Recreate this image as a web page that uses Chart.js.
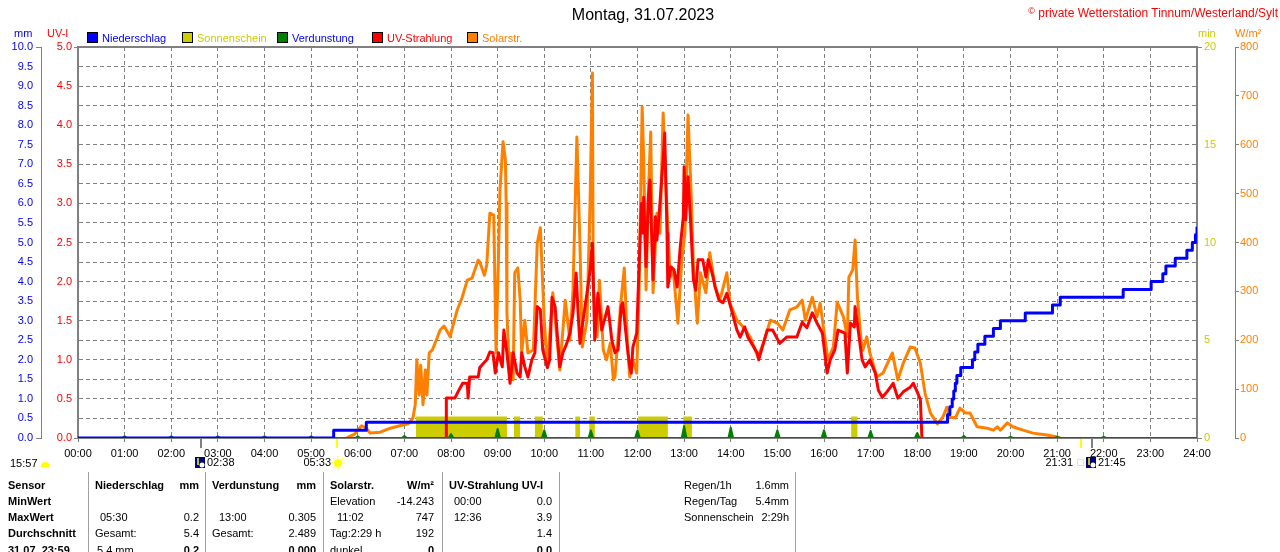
<!DOCTYPE html>
<html>
<head>
<meta charset="utf-8">
<title>Montag, 31.07.2023</title>
<script src="https://cdn.jsdelivr.net/npm/chart.js@4.4.0/dist/chart.umd.min.js"></script>
<style>
    html, body { margin: 0; padding: 0; background: #fff; }
    #wrap { position: relative; width: 1280px; height: 552px; overflow: hidden; font-family: "Liberation Sans", Arial, sans-serif; }
    #c { position: absolute; left: 0; top: 0; }
    .t { position: absolute; font-size: 11px; line-height: 14px; white-space: nowrap; color: #000; }
    .b { font-weight: bold; }
    .r { text-align: right; }
    .sep { position: absolute; top: 472px; height: 80px; width: 1px; background: #a0a0a0; }
    .box { display: inline-block; width: 9px; height: 9px; border: 1px solid #000; vertical-align: -1px; margin-right: 4px; }
</style>
</head>
<body>
<div id="wrap">
    <canvas id="c" width="1280" height="552"></canvas>

    <!-- title and header -->
    <div class="t" style="left:3px;width:1280px;top:5px;font-size:16px;line-height:20px;text-align:center;">Montag, 31.07.2023</div>
    <div class="t" style="right:2px;top:4px;font-size:12px;color:#ff0000;"><span style="font-size:9px;vertical-align:3px;">©</span> private Wetterstation Tinnum/Westerland/Sylt</div>

    <div class="t" style="left:14px;top:26px;color:#0000ff;">mm</div>
    <div class="t" style="left:47px;top:26px;color:#ff0000;">UV-I</div>
    <div class="t" style="left:1198px;top:26px;color:#cccc00;">min</div>
    <div class="t" style="left:1235px;top:26px;color:#ff8000;">W/m²</div>

    <!-- legend -->
    <div class="t" style="left:87px;top:31px;color:#0000ff;"><span class="box" style="background:#0000ff"></span>Niederschlag</div>
    <div class="t" style="left:182px;top:31px;color:#cccc00;"><span class="box" style="background:#cccc00"></span>Sonnenschein</div>
    <div class="t" style="left:277px;top:31px;color:#0000ff;"><span class="box" style="background:#008000"></span>Verdunstung</div>
    <div class="t" style="left:372px;top:31px;color:#ff0000;"><span class="box" style="background:#ff0000"></span>UV-Strahlung</div>
    <div class="t" style="left:467px;top:31px;color:#ff8000;"><span class="box" style="background:#ff8000"></span>Solarstr.</div>

    <div class="t" style="left:10px;top:456px;">15:57 <span style="display:inline-block;width:9px;height:5px;background:#ffff00;border-radius:5px 5px 0 0;vertical-align:0px;"></span></div>

    <!-- table -->
    <div class="sep" style="left:88px"></div>
    <div class="sep" style="left:205px"></div>
    <div class="sep" style="left:323px"></div>
    <div class="sep" style="left:442px"></div>
    <div class="sep" style="left:559px"></div>
    <div class="sep" style="left:795px"></div>

    <div class="t b" style="left:8px;top:478px;">Sensor</div>
    <div class="t b" style="left:8px;top:494px;">MinWert</div>
    <div class="t b" style="left:8px;top:510px;">MaxWert</div>
    <div class="t b" style="left:8px;top:526px;">Durchschnitt</div>
    <div class="t b" style="left:8px;top:543px;">31.07. 23:59</div>

    <div class="t b" style="left:95px;top:478px;">Niederschlag</div>
    <div class="t b r" style="right:1081px;top:478px;">mm</div>
    <div class="t" style="left:100px;top:510px;">05:30</div>
    <div class="t r" style="right:1081px;top:510px;">0.2</div>
    <div class="t" style="left:95px;top:526px;">Gesamt:</div>
    <div class="t r" style="right:1081px;top:526px;">5.4</div>
    <div class="t" style="left:97px;top:543px;">5.4 mm</div>
    <div class="t b r" style="right:1081px;top:543px;">0.2</div>

    <div class="t b" style="left:212px;top:478px;">Verdunstung</div>
    <div class="t b r" style="right:964px;top:478px;">mm</div>
    <div class="t" style="left:219px;top:510px;">13:00</div>
    <div class="t r" style="right:964px;top:510px;">0.305</div>
    <div class="t" style="left:212px;top:526px;">Gesamt:</div>
    <div class="t r" style="right:964px;top:526px;">2.489</div>
    <div class="t b r" style="right:964px;top:543px;">0.000</div>

    <div class="t b" style="left:330px;top:478px;">Solarstr.</div>
    <div class="t b r" style="right:846px;top:478px;">W/m²</div>
    <div class="t" style="left:330px;top:494px;">Elevation</div>
    <div class="t r" style="right:846px;top:494px;">-14.243</div>
    <div class="t" style="left:337px;top:510px;">11:02</div>
    <div class="t r" style="right:846px;top:510px;">747</div>
    <div class="t" style="left:330px;top:526px;">Tag:2:29 h</div>
    <div class="t r" style="right:846px;top:526px;">192</div>
    <div class="t" style="left:330px;top:543px;">dunkel</div>
    <div class="t b r" style="right:846px;top:543px;">0</div>

    <div class="t b" style="left:449px;top:478px;">UV-Strahlung UV-I</div>
    <div class="t" style="left:454px;top:494px;">00:00</div>
    <div class="t r" style="right:728px;top:494px;">0.0</div>
    <div class="t" style="left:454px;top:510px;">12:36</div>
    <div class="t r" style="right:728px;top:510px;">3.9</div>
    <div class="t r" style="right:728px;top:526px;">1.4</div>
    <div class="t b r" style="right:728px;top:543px;">0.0</div>

    <div class="t" style="left:684px;top:478px;">Regen/1h</div>
    <div class="t r" style="right:491px;top:478px;">1.6mm</div>
    <div class="t" style="left:684px;top:494px;">Regen/Tag</div>
    <div class="t r" style="right:491px;top:494px;">5.4mm</div>
    <div class="t" style="left:684px;top:510px;">Sonnenschein</div>
    <div class="t r" style="right:491px;top:510px;">2:29h</div>
</div>

<script>
// times are minutes after midnight

// Niederschlag, cumulative mm (step at each time)
let rainMin = [0, 329, 371, 1119, 1122, 1125, 1127, 1129, 1131, 1136, 1151, 1154, 1158, 1167, 1178, 1187,
    1219, 1254, 1264, 1345, 1381, 1396, 1400, 1412, 1427, 1434, 1438, 1440];
let rainMm = [0, 0.2, 0.4, 0.6, 0.8, 1.0, 1.2, 1.4, 1.6, 1.8, 2.0, 2.2, 2.4, 2.6, 2.8, 3.0,
    3.2, 3.4, 3.6, 3.8, 4.0, 4.2, 4.4, 4.6, 4.8, 5.0, 5.2, 5.4];

// Sonnenschein, minutes per interval
let sunStart = [435, 561, 588, 640, 658, 721, 779, 995];
let sunEnd = [552, 569, 598, 646, 665, 759, 790, 1003];
let sunValue = [1.1, 1.1, 1.1, 1.1, 1.1, 1.1, 1.1, 1.1];

// Verdunstung, mm per hour
let evapHour = [1, 2, 3, 4, 5, 6, 7, 8, 9, 10, 11, 12, 13, 14, 15, 16, 17, 18, 19, 20, 21, 22];
let evapMm = [0.04, 0.04, 0.04, 0.04, 0.04, 0.04, 0.05, 0.1, 0.23, 0.2, 0.19, 0.19, 0.305, 0.26, 0.2, 0.2,
    0.18, 0.13, 0.05, 0.03, 0.03, 0.03];

// UV-Strahlung, UV-I (only while above zero)
let uvMin = [474, 474, 485, 489, 495, 501, 502, 504, 515, 517, 526, 530, 534, 537, 541, 546, 548, 552, 556,
    560, 565, 569, 571, 575, 579, 584, 588, 591, 595, 598, 604, 607, 610, 614, 620, 624, 629, 633, 637,
    641, 644, 646, 650, 655, 659, 662, 665, 669, 674, 682, 687, 691, 695, 699, 701, 707, 710, 712, 714,
    719, 722, 725, 727, 728, 731, 734, 736, 740, 743, 745, 748, 752, 753, 755, 758, 759, 763, 767, 771,
    775, 779, 780, 782, 785, 788, 792, 795, 798, 804, 808, 811, 816, 820, 825, 830, 835, 842, 848, 852,
    858, 862, 874, 876, 882, 887, 894, 903, 912, 925, 932, 938, 945, 951, 958, 964, 968, 974, 978, 987,
    990, 994, 999, 1000, 1004, 1009, 1013, 1019, 1026, 1030, 1035, 1041, 1049, 1055, 1062, 1071, 1075, 1080,
    1084, 1086];
let uvIndex = [0, 0.51, 0.51, 0.59, 0.70, 0.70, 0.51, 0.78, 0.78, 0.90, 1.0, 1.1, 1.09, 0.83, 1.09, 0.91, 1.38, 1.09, 0.70,
    1.09, 0.83, 0.78, 1.09, 0.91, 0.78, 1.0, 1.09, 1.68, 1.64, 1.13, 0.90, 1.0, 1.80, 1.68, 0.91, 1.09, 1.21, 1.34, 1.60,
    2.11, 1.51, 1.21, 1.51, 1.85, 2.15, 2.49, 1.25, 1.85, 1.38, 1.68, 1.25, 1.09, 1.13, 1.68, 1.73, 1.16, 0.91, 0.83, 1.16,
    1.34, 2.19, 3.0, 2.62, 3.08, 2.19, 3.08, 3.30, 2.02, 2.83, 2.53, 2.88, 3.43, 3.56, 3.90, 2.62, 1.93, 2.19, 2.15, 1.93,
    2.44, 2.83, 3.47, 2.79, 3.34, 2.83, 2.02, 1.89, 2.28, 2.28, 2.06, 2.28, 2.11, 1.93, 1.76, 1.73, 1.85, 1.60, 1.38, 1.29,
    1.42, 1.29, 1.09, 1.0, 1.21, 1.38, 1.38, 1.21, 1.29, 1.29, 1.48, 1.41, 1.60, 1.47, 1.34, 0.83, 1.0, 1.13, 1.38, 1.34,
    0.83, 1.47, 1.42, 1.68, 1.38, 1.0, 0.91, 1.0, 0.83, 0.61, 0.52, 0.59, 0.70, 0.51, 0.59, 0.65, 0.70, 0.59,
    0.49, 0];

// Solarstrahlung, W/m² (only while above zero)
let solarMin = [346, 348, 356, 365, 371, 376, 389, 402, 414, 425, 431, 434, 436, 439, 441, 444, 447, 449, 452,
    456, 461, 466, 471, 479, 481, 488, 494, 501, 507, 515, 517, 523, 526, 530, 535, 538, 541, 543, 547,
    550, 551, 552, 555, 557, 560, 562, 566, 569, 571, 575, 579, 586, 591, 595, 600, 604, 611, 620, 627,
    633, 637, 642, 646, 649, 655, 659, 662, 663, 668, 671, 676, 680, 685, 689, 691, 698, 703, 707, 710,
    714, 719, 722, 726, 728, 731, 734, 737, 740, 745, 749, 753, 757, 762, 766, 772, 777, 781, 785, 789,
    792, 797, 801, 808, 813, 820, 826, 835, 839, 848, 856, 865, 875, 882, 891, 900, 907, 916, 925, 932,
    936, 945, 951, 955, 961, 965, 972, 977, 985, 990, 992, 997, 1000, 1003, 1008, 1010, 1015, 1019, 1028, 1036,
    1048, 1055, 1062, 1071, 1077, 1084, 1090, 1097, 1106, 1113, 1118, 1122, 1129, 1135, 1142, 1148, 1157, 1170, 1178, 1183,
    1187, 1196, 1203, 1216, 1229, 1247, 1260, 1264];
let solarW = [0, 2, 8, 25, 20, 10, 12, 20, 25, 29, 41, 68, 160, 88, 149, 68, 139, 88, 174,
    180, 200, 221, 229, 207, 221, 262, 286, 323, 327, 364, 360, 333, 354, 460, 456, 174, 364, 507, 606,
    569, 481, 256, 139, 174, 119, 338, 348, 282, 174, 241, 174, 180, 399, 430, 241, 145, 297, 139, 282,
    200, 303, 616, 391, 186, 241, 487, 747, 309, 207, 323, 180, 160, 194, 119, 125, 268, 348, 194, 125,
    160, 133, 297, 677, 569, 303, 501, 626, 297, 460, 419, 665, 501, 329, 344, 235, 364, 419, 661, 501,
    350, 235, 338, 297, 379, 309, 282, 338, 276, 241, 227, 207, 166, 194, 241, 235, 221, 262, 268, 282,
    241, 288, 248, 276, 207, 160, 186, 278, 248, 207, 329, 344, 405, 288, 194, 180, 207, 174, 125, 133,
    174, 119, 153, 186, 184, 153, 92, 51, 29, 43, 63, 43, 41, 61, 51, 51, 23, 20, 16, 23,
    16, 31, 23, 16, 10, 6, 2, 0];

// sun and moon rise/set below the time axis
let astroMin = [158, 333, 1291, 1305];
let astroKind = ['moon', 'sunrise', 'sunset', 'moon'];
let astroLabel = ['02:38', '05:33', '21:31', '21:45'];

let toPoints = function (mins, vals) {
    return mins.map((m, i) => ({ x: m / 60, y: vals[i] }));
}

let sunPoints = [{ x: 0, y: 0 }];
sunStart.forEach((s, i) => {
    sunPoints.push({ x: s / 60, y: 0 }, { x: s / 60, y: sunValue[i] },
        { x: sunEnd[i] / 60, y: sunValue[i] }, { x: sunEnd[i] / 60, y: 0 });
});
sunPoints.push({ x: 24, y: 0 });

let evapPoints = [{ x: 0, y: 0 }];
evapHour.forEach((h, i) => {
    evapPoints.push({ x: h - 0.05, y: 0 }, { x: h, y: evapMm[i] }, { x: h + 0.05, y: 0 });
});
evapPoints.push({ x: 24, y: 0 });

const GRID = '#808080';
const FONT = { family: '"Liberation Sans", Arial, sans-serif', size: 11 };

// only the first and last tick get a tick mark
let endTicks = function (ctx) {
    let n = ctx.scale.ticks.length;
    return (ctx.index === 0 || ctx.index === n - 1) ? GRID : 'rgba(0,0,0,0)';
}

const framePlugin = {
    id: 'frame',
    beforeDatasetsDraw(chart) {
        const { ctx, chartArea: a } = chart;
        ctx.save();
        ctx.strokeStyle = GRID;
        ctx.lineWidth = 2;
        ctx.strokeRect(a.left, a.top, a.right - a.left, a.bottom - a.top);
        ctx.restore();
    }
};

const astroPlugin = {
    id: 'astro',
    afterDraw(chart) {
        const { ctx, chartArea: a } = chart;
        const xs = chart.scales.x;
        const y = a.bottom + 25;
        ctx.save();
        ctx.font = '11px "Liberation Sans", Arial, sans-serif';
        ctx.textBaseline = 'middle';
        ctx.fillStyle = '#000';
        astroMin.forEach((m, i) => {
            const px = Math.round(xs.getPixelForValue(m / 60));
            const kind = astroKind[i];
            ctx.strokeStyle = kind === 'moon' ? GRID : '#ffff00';
            ctx.lineWidth = 2;
            ctx.beginPath();
            ctx.moveTo(px, a.bottom + 1);
            ctx.lineTo(px, a.bottom + 10);
            ctx.stroke();

            if (kind === 'moon') {
                ctx.fillStyle = '#000080';
                ctx.fillRect(px - 6, y - 6, 10, 11);
                ctx.fillStyle = '#ffffff';
                ctx.beginPath();
                ctx.arc(px + 1, y + 2, 2.5, 0, Math.PI * 2);
                ctx.fill();
                ctx.strokeStyle = '#ffff00';
                ctx.lineWidth = 1.5;
                ctx.beginPath();
                ctx.moveTo(px - 3, y - 5);
                ctx.lineTo(px - 3, y + 2);
                ctx.stroke();
                ctx.fillStyle = '#000';
                ctx.textAlign = 'left';
                ctx.fillText(astroLabel[i], px + 6, y);
            } else if (kind === 'sunrise') {
                ctx.fillStyle = '#ffff00';
                ctx.strokeStyle = '#ffff00';
                ctx.lineWidth = 1;
                ctx.beginPath();
                ctx.arc(px + 1, y, 4, 0, Math.PI * 2);
                ctx.fill();
                for (let k = 0; k < 8; k++) {
                    const ang = k * Math.PI / 4;
                    ctx.beginPath();
                    ctx.moveTo(px + 1 + Math.cos(ang) * 5, y + Math.sin(ang) * 5);
                    ctx.lineTo(px + 1 + Math.cos(ang) * 7, y + Math.sin(ang) * 7);
                    ctx.stroke();
                }
                ctx.fillStyle = '#000';
                ctx.textAlign = 'right';
                ctx.fillText(astroLabel[i], px - 6, y);
            } else {
                ctx.strokeStyle = '#ffff00';
                ctx.lineWidth = 1;
                ctx.strokeRect(px - 3.5, y - 3.5, 6, 6);
                ctx.fillStyle = '#000';
                ctx.textAlign = 'right';
                ctx.fillText(astroLabel[i], px - 8, y);
            }
        });
        ctx.restore();
    }
};

let line = function (label, data, color, axis, width, order) {
    return {
        label: label,
        data: data,
        borderColor: color,
        backgroundColor: color,
        borderWidth: width,
        borderJoinStyle: 'round',
        pointRadius: 0,
        tension: 0,
        fill: false,
        yAxisID: axis,
        order: order
    };
}

// lower order is drawn on top
let rainSet = line('Niederschlag', toPoints(rainMin, rainMm), '#0000ff', 'yMM', 3, 1);
rainSet.stepped = 'before';
let evapSet = line('Verdunstung', evapPoints, '#008000', 'yMM', 2, 2);
evapSet.fill = 'origin';
let uvSet = line('UV-Strahlung', toPoints(uvMin, uvIndex), '#ff0000', 'yUV', 3, 3);
let solarSet = line('Solarstr.', toPoints(solarMin, solarW), '#ff8000', 'yW', 3, 4);
let sunSet = line('Sonnenschein', sunPoints, '#cccc00', 'yMin', 0, 5);
sunSet.fill = 'origin';

new Chart(document.getElementById('c'), {
    type: 'line',
    data: { datasets: [rainSet, sunSet, evapSet, uvSet, solarSet] },
    options: {
        responsive: false,
        animation: false,
        devicePixelRatio: 1,
        layout: { padding: { top: 47, left: 0, right: 0, bottom: 0 } },
        plugins: { legend: { display: false }, tooltip: { enabled: false }, title: { display: false } },
        scales: {
            x: {
                type: 'linear',
                min: 0,
                max: 24,
                afterFit: (s) => { s.height = 114; },
                ticks: {
                    stepSize: 1,
                    autoSkip: false,
                    maxRotation: 0,
                    padding: 5,
                    color: '#000',
                    font: FONT,
                    callback: (v) => String(v).padStart(2, '0') + ':00'
                },
                grid: { color: GRID, lineWidth: 1, tickLength: 4, tickColor: GRID },
                border: { display: false, dash: [4, 3] }
            },
            yMM: {
                position: 'left',
                weight: 1,
                min: 0,
                max: 10,
                afterFit: (s) => { s.width = 41; },
                ticks: { stepSize: 0.5, color: '#0000ff', font: FONT, padding: 3, callback: (v) => v.toFixed(1) },
                grid: { color: GRID, lineWidth: 1, tickLength: 5, tickColor: endTicks },
                border: { display: true, color: GRID, width: 1, dash: [4, 3] }
            },
            yUV: {
                position: 'left',
                weight: 0,
                min: 0,
                max: 5,
                afterFit: (s) => { s.width = 37; },
                ticks: { stepSize: 0.5, color: '#ff0000', font: FONT, padding: 2, callback: (v) => v.toFixed(1) },
                grid: { drawOnChartArea: false, tickLength: 4, tickColor: endTicks },
                border: { display: false }
            },
            yMin: {
                position: 'right',
                weight: 0,
                min: 0,
                max: 20,
                afterFit: (s) => { s.width = 38; },
                ticks: { stepSize: 5, color: '#cccc00', font: FONT, padding: 2 },
                grid: { drawOnChartArea: false, tickLength: 5, tickColor: endTicks },
                border: { display: false }
            },
            yW: {
                position: 'right',
                weight: 1,
                min: 0,
                max: 800,
                afterFit: (s) => { s.width = 45; },
                ticks: { stepSize: 100, color: '#ff8000', font: FONT, padding: 1 },
                grid: { drawOnChartArea: false, tickLength: 4, tickColor: GRID },
                border: { display: true, color: GRID, width: 1 }
            }
        }
    },
    plugins: [framePlugin, astroPlugin]
});
</script>
</body>
</html>
